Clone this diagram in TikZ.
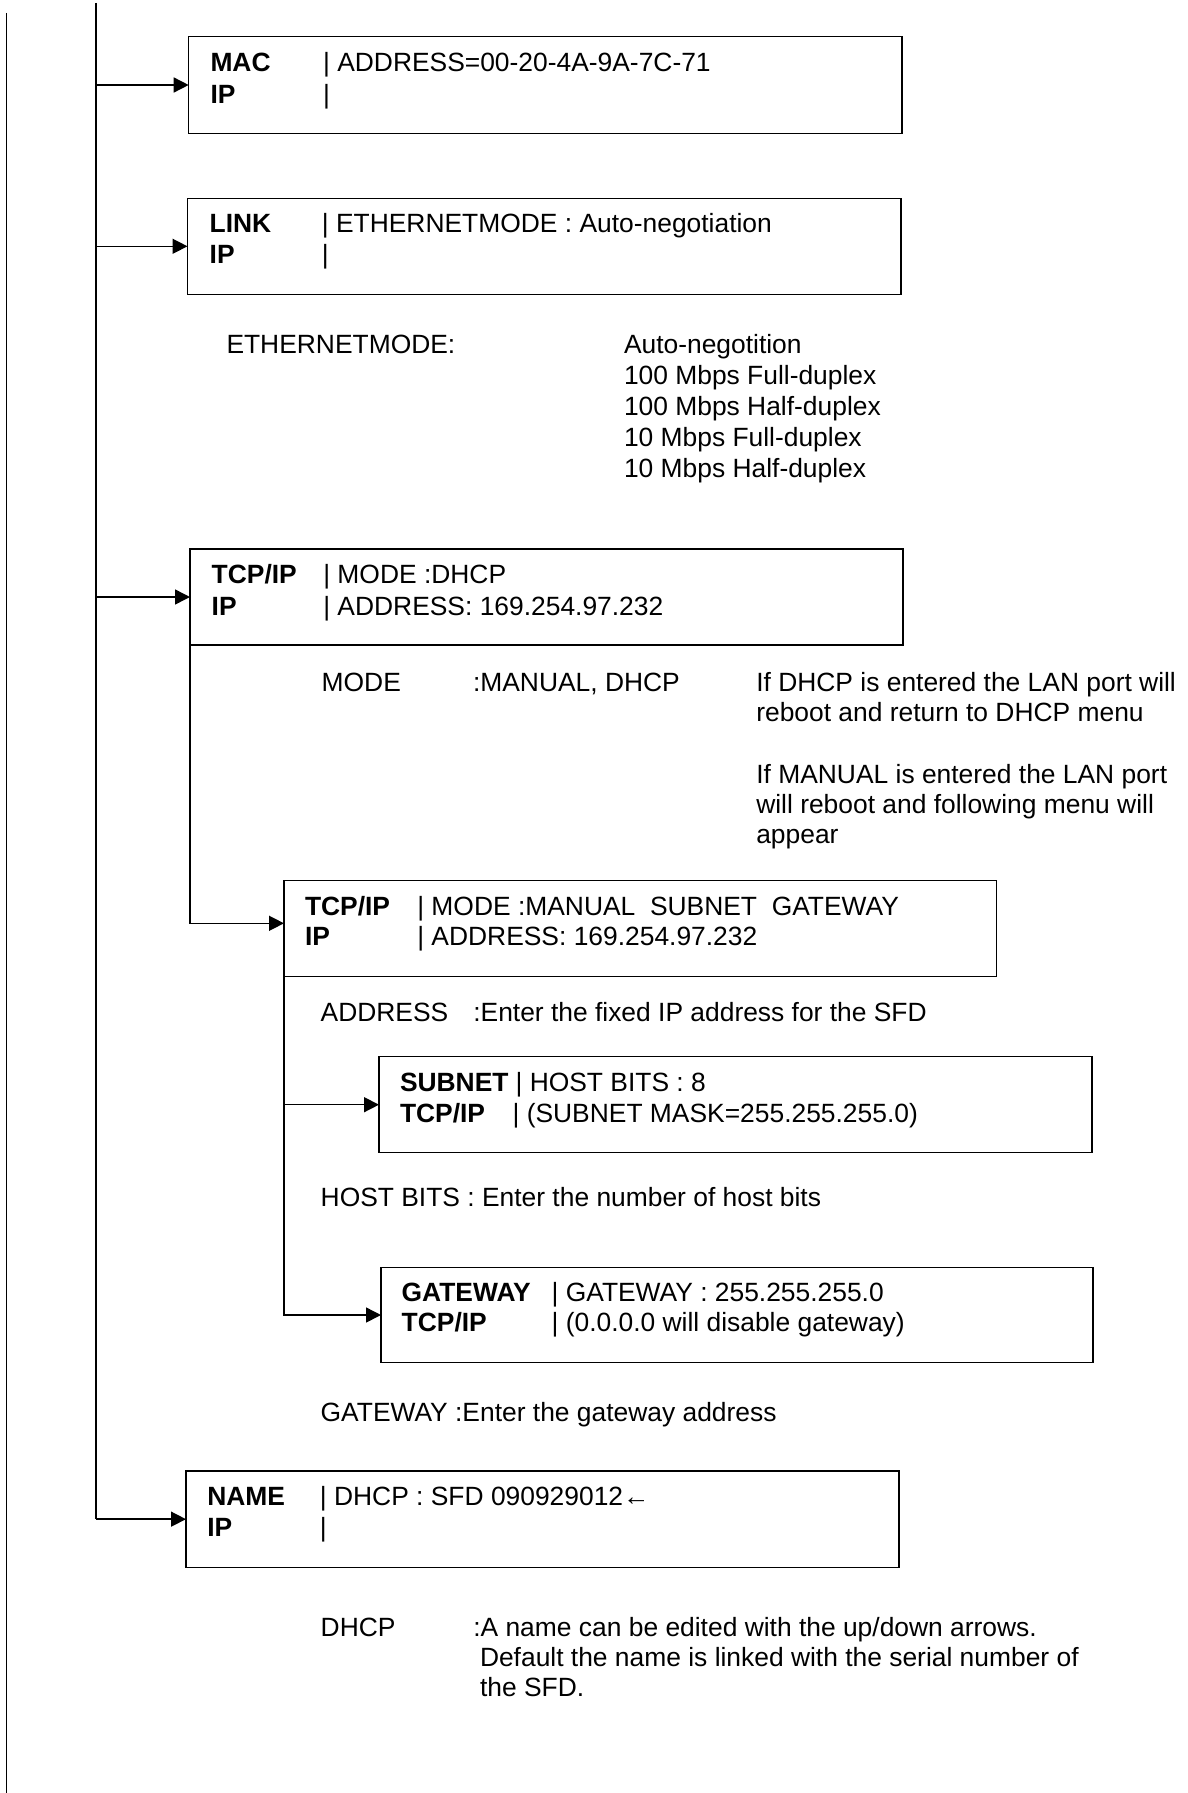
\documentclass[tikz,border=0pt]{standalone}
\usepackage{fontspec}
\setmainfont{Liberation Sans}
\usetikzlibrary{arrows.meta}
\begin{document}
\begin{tikzpicture}[x=1pt,y=-1pt,
  every node/.style={inner sep=0pt, outer sep=0pt, font=\fontsize{26.4pt}{31pt}\selectfont},
  txt/.style={anchor=base west},
  lbl/.style={anchor=base west, font=\fontsize{26.4pt}{31pt}\selectfont\bfseries},
  menubox/.style={draw, line width=1.5pt, anchor=north west},
  wire/.style={line width=1.5pt},
  arr/.style={line width=1.5pt, -{Triangle[length=15pt,width=15pt]}}
]
\useasboundingbox (0,0) rectangle (1187,1793);

% boxes
\node[menubox, minimum width=713.3pt, minimum height=96.6pt] (mac) at (188.7,36.7) {};
\node[menubox, minimum width=713.5pt, minimum height=96pt] (link) at (187.5,198.3) {};
\node[menubox, minimum width=713pt, minimum height=96pt] (dhcp) at (190,549) {};
\node[menubox, minimum width=712.5pt, minimum height=96pt] (manual) at (284,880.7) {};
\node[menubox, minimum width=713pt, minimum height=96pt] (subnet) at (379,1056.7) {};
\node[menubox, minimum width=712pt, minimum height=95.4pt] (gateway) at (381,1267.3) {};
\node[menubox, minimum width=713pt, minimum height=96.3pt] (name) at (186,1471) {};

% trunk lines
\coordinate (outerTop) at (6.5,13);
\coordinate (outerBot) at (6.5,1793);
\draw[wire] (outerTop) -- (outerBot);
\coordinate (trunkTop) at (96,3);
\draw[wire] (trunkTop) -- (trunkTop |- name.west);
\draw[arr] (trunkTop |- mac.west) -- (mac.west);
\draw[arr] (trunkTop |- link.west) -- (link.west);
\draw[arr] (trunkTop |- dhcp.west) -- (dhcp.west);
\draw[arr] (trunkTop |- name.west) -- (name.west);
\draw[arr] (dhcp.south west) |- (manual.west |- 0,923.3);
\draw[arr] (manual.south west) |- (gateway.west);
\draw[arr] (manual.south west |- subnet.west) -- (subnet.west);

% MAC box
\node[lbl] (macL1) at (210.5,71.7) {MAC};
\node[lbl] (macL2) at (210.5,103) {IP};
\node[txt] (macV1) at (323.1,71.7) {| ADDRESS=00-20-4A-9A-7C-71};
\node[txt] (macV2) at (323.1,103) {|};

% LINK box
\node[lbl] (linkL1) at (209.7,232) {LINK};
\node[lbl] (linkL2) at (209.7,263) {IP};
\node[txt] (linkV1) at (321.9,232) {| ETHERNETMODE : Auto-negotiation};
\node[txt] (linkV2) at (321.9,263) {|};

% Ethernet modes
\node[txt] (ethK) at (226.5,353) {ETHERNETMODE:};
\node[txt] (eth1) at (624,353) {Auto-negotition};
\node[txt] (eth2) at (624,384) {100 Mbps Full-duplex};
\node[txt] (eth3) at (624,415.5) {100 Mbps Half-duplex};
\node[txt] (eth4) at (624,446.5) {10 Mbps Full-duplex};
\node[txt] (eth5) at (624,477) {10 Mbps Half-duplex};

% DHCP box
\node[lbl] (dhcpL1) at (211.7,583) {TCP/IP};
\node[lbl] (dhcpL2) at (211.7,615) {IP};
\node[txt] (dhcpV1) at (323.3,583) {| MODE :DHCP};
\node[txt] (dhcpV2) at (323.3,615) {| ADDRESS: 169.254.97.232};

% MODE explanation
\node[txt] (modeK) at (321.7,691.7) {MODE};
\node[txt] (modeV) at (473,691.7) {:MANUAL, DHCP};
\node[txt] (modeN1) at (756.3,691.7) {If DHCP is entered the LAN port will};
\node[txt] (modeN2) at (756.3,721.7) {reboot and return to DHCP menu};
\node[txt] (modeN3) at (756.3,783) {If MANUAL is entered the LAN port};
\node[txt] (modeN4) at (756.3,813) {will reboot and following menu will};
\node[txt] (modeN5) at (756.3,843) {appear};

% MANUAL box
\node[lbl] (manL1) at (305,915) {TCP/IP};
\node[lbl] (manL2) at (305,945) {IP};
\node[txt] (manV1) at (417.3,915) {| MODE :MANUAL~ SUBNET~ GATEWAY};
\node[txt] (manV2) at (417.3,945) {| ADDRESS: 169.254.97.232};

\node[txt] (addrK) at (320.7,1021.7) {ADDRESS};
\node[txt] (addrV) at (473.3,1021.7) {:Enter the fixed IP address for the SFD};

% SUBNET box
\node[lbl] (subL1) at (400,1091.7) {SUBNET};
\node[lbl] (subL2) at (400,1122.7) {TCP/IP};
\node[txt] (subV1) at (515.6,1091.7) {| HOST BITS : 8};
\node[txt] (subV2) at (512.6,1122.7) {| (SUBNET MASK=255.255.255.0)};

\node[txt] (hostN) at (320.7,1206) {HOST BITS : Enter the number of host bits};

% GATEWAY box
\node[lbl] (gwL1) at (401.7,1301.7) {GATEWAY};
\node[lbl] (gwL2) at (401.7,1331.7) {TCP/IP};
\node[txt] (gwV1) at (551.6,1301.7) {| GATEWAY : 255.255.255.0};
\node[txt] (gwV2) at (551.6,1331.7) {| (0.0.0.0 will disable gateway)};

\node[txt] (gwN) at (320.7,1421.7) {GATEWAY :Enter the gateway address};

% NAME box
\node[lbl] (nameL1) at (207.3,1505) {NAME};
\node[lbl] (nameL2) at (207.3,1536.7) {IP};
\node[txt] (nameV1) at (319.9,1505) {| DHCP : SFD 090929012←};
\node[txt] (nameV2) at (319.9,1536.7) {|};

\node[txt] (dhcpK) at (320.7,1636.7) {DHCP};
\node[txt] (dhcpN1) at (473.3,1636.7) {:A name can be edited with the up/down arrows.};
\node[txt] (dhcpN2) at (480,1666.7) {Default the name is linked with the serial number of};
\node[txt] (dhcpN3) at (480,1696.7) {the SFD.};
\end{tikzpicture}
\end{document}
